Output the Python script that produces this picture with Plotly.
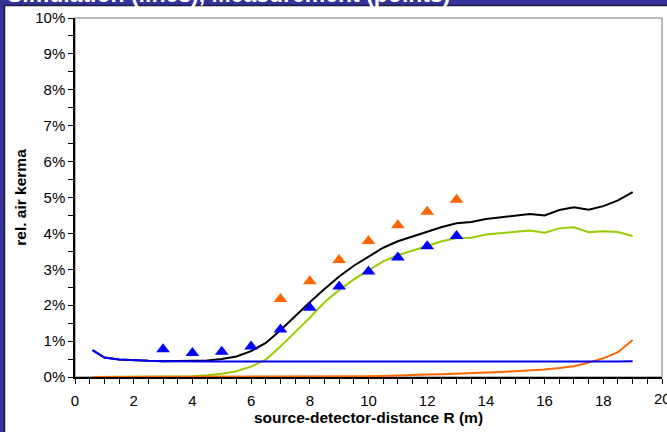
import plotly.graph_objects as go

# Simulation lines
x_sim = [0.6, 1, 1.5, 2, 2.5, 3, 3.5, 4, 4.5, 5, 5.5, 6, 6.5, 7, 7.5, 8, 8.5, 9, 9.5,
         10, 10.5, 11, 11.5, 12, 12.5, 13, 13.5, 14, 14.5, 15, 15.5, 16, 16.5, 17, 17.5,
         18, 18.5, 19]
total = [0.75, 0.54, 0.49, 0.46, 0.45, 0.44, 0.44, 0.44, 0.46, 0.50, 0.57, 0.72, 0.95,
         1.30, 1.70, 2.08, 2.45, 2.80, 3.10, 3.35, 3.60, 3.78, 3.92, 4.05, 4.18, 4.28,
         4.32, 4.40, 4.44, 4.49, 4.54, 4.50, 4.65, 4.73, 4.66, 4.76, 4.92, 5.15]
scatter_part = [0.00, 0.00, 0.00, 0.00, 0.00, 0.00, 0.01, 0.02, 0.05, 0.09, 0.16, 0.29,
                0.48, 0.85, 1.25, 1.65, 2.08, 2.42, 2.72, 2.98, 3.22, 3.39, 3.52, 3.65,
                3.78, 3.87, 3.88, 3.97, 4.00, 4.04, 4.08, 4.02, 4.14, 4.17, 4.03, 4.06,
                4.04, 3.93]
direct_part = [0.75, 0.54, 0.49, 0.46, 0.45, 0.44, 0.43, 0.43, 0.43, 0.43, 0.43, 0.43,
               0.43, 0.43, 0.43, 0.42, 0.43, 0.43, 0.43, 0.43, 0.43, 0.41, 0.43, 0.43,
               0.43, 0.43, 0.43, 0.43, 0.43, 0.43, 0.43, 0.43, 0.43, 0.43, 0.43, 0.43,
               0.43, 0.44]
leak_part = [0.00, 0.00, 0.00, 0.00, 0.00, 0.00, 0.00, 0.00, 0.00, 0.00, 0.00, 0.00,
             0.00, 0.00, 0.00, 0.01, 0.01, 0.01, 0.02, 0.02, 0.03, 0.05, 0.06, 0.07,
             0.08, 0.09, 0.10, 0.12, 0.14, 0.16, 0.18, 0.21, 0.25, 0.30, 0.40, 0.52,
             0.69, 1.03]

# Measurements
x_meas_blue = [3, 4, 5, 6, 7, 8, 9, 10, 11, 12, 13]
meas_blue = [0.77, 0.67, 0.70, 0.85, 1.32, 1.93, 2.52, 2.94, 3.33, 3.64, 3.93]
x_meas_orange = [7, 8, 9, 10, 11, 12, 13]
meas_orange = [2.17, 2.67, 3.26, 3.79, 4.23, 4.60, 4.94]

x_last_tick = 20
title_text = "Simulation (lines), Measurement (points)"
x_title = "source-detector-distance R (m)"
y_title = "rel. air kerma"

NAVY = "#333399"
FONT = "Liberation Sans, Arial, sans-serif"

fig = go.Figure()
fig.add_trace(go.Scatter(x=x_sim, y=total, mode="lines",
                         line=dict(color="black", width=2)))
fig.add_trace(go.Scatter(x=x_sim, y=scatter_part, mode="lines",
                         line=dict(color="#99cc00", width=2)))
fig.add_trace(go.Scatter(x=x_sim, y=leak_part, mode="lines",
                         line=dict(color="#ff6600", width=2)))
fig.add_trace(go.Scatter(x=x_sim, y=direct_part, mode="lines",
                         line=dict(color="#0000ff", width=2)))
fig.add_trace(go.Scatter(x=x_meas_orange, y=meas_orange, mode="markers",
                         marker=dict(symbol="triangle-up", size=12, color="#ff6600")))
fig.add_trace(go.Scatter(x=x_meas_blue, y=meas_blue, mode="markers",
                         marker=dict(symbol="triangle-up", size=12, color="#0000ff")))

L, R, T, B = 75, 5, 18, 55
W, H = 667, 432
pw, ph = W - L - R, H - T - B


def px2x(p):
    return (p - L) / pw


def py2y(p):
    return (H - B - p) / ph


fig.update_layout(
    width=W, height=H,
    margin=dict(l=L, r=R, t=T, b=B, autoexpand=False),
    paper_bgcolor=NAVY,
    plot_bgcolor="white",
    showlegend=False,
    font=dict(family=FONT, size=15, color="black"),
    shapes=[
        dict(type="rect", xref="paper", yref="paper", layer="below",
             x0=px2x(4.5), x1=px2x(670), y0=py2y(440), y1=py2y(5.5),
             fillcolor="white", line=dict(color="#1a1a40", width=1.5)),
        dict(type="rect", xref="paper", yref="paper", layer="below",
             x0=0, x1=1, y0=0, y1=1,
             fillcolor="white", line=dict(color="#a0a0a0", width=1.5)),
    ],
    annotations=[
        dict(text="<b>" + title_text + "</b>", xref="paper", yref="paper",
             x=px2x(5), y=py2y(-6), xanchor="left", yanchor="middle",
             showarrow=False, font=dict(family=FONT, size=23, color="white")),
        dict(text=str(x_last_tick), xref="x", yref="paper",
             x=x_last_tick, y=py2y(398), xanchor="center", yanchor="middle",
             showarrow=False, font=dict(family=FONT, size=15, color="black")),
    ],
)

fig.update_xaxes(
    range=[0, 20], dtick=2, tick0=0,
    showgrid=False, zeroline=False,
    showline=True, linecolor="black", linewidth=1.5,
    ticks="outside", ticklen=5, tickcolor="black", tickwidth=1,
    minor=dict(dtick=0.5, ticks="outside", ticklen=5, tickcolor="black", tickwidth=1, showgrid=False),
    tickfont=dict(size=15),
    ticklabelstandoff=4,
    automargin=False,
    title=dict(text="<b>" + x_title + "</b>", font=dict(size=15.5), standoff=3),
)
fig.update_yaxes(
    range=[0, 10], dtick=1, tick0=0, ticksuffix="%",
    showgrid=False, zeroline=False,
    showline=True, linecolor="black", linewidth=1.5,
    ticks="outside", ticklen=5, tickcolor="black", tickwidth=1,
    minor=dict(dtick=0.5, ticks="outside", ticklen=5, tickcolor="black", tickwidth=1, showgrid=False),
    tickfont=dict(size=15),
    automargin=False,
    title=dict(text="<b>" + y_title + "</b>", font=dict(size=15.5), standoff=5),
)

fig.write_html(
    "out.html",
    config={"displayModeBar": False},
    post_script="document.body.style.margin='0';document.body.style.overflow='hidden';",
)
